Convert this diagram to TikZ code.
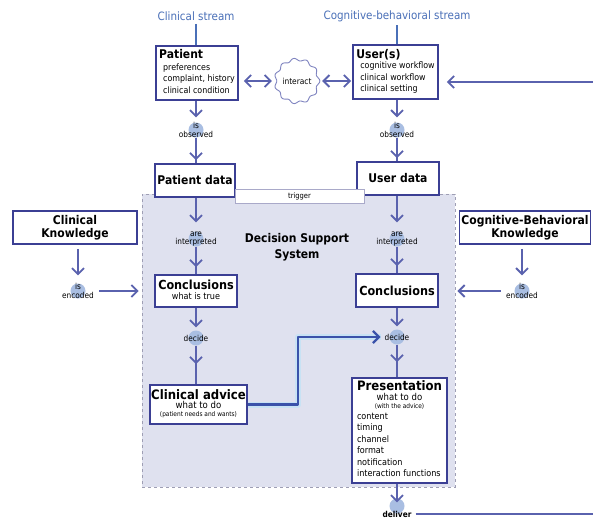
\documentclass[tikz,border=0pt]{standalone}
\usepackage{fontspec}
\setmainfont{DejaVu Sans Condensed}
\usetikzlibrary{arrows.meta,decorations.markings,calc}
\definecolor{boxc}{HTML}{3B3F94}
\definecolor{arrc}{HTML}{5A62AE}
\definecolor{streamc}{HTML}{4A70B8}
\definecolor{dssfill}{HTML}{DFE1EF}
\definecolor{dssline}{HTML}{9E9EB4}
\definecolor{dotc}{HTML}{A9BEE2}
\definecolor{advc}{HTML}{3A52AA}
\definecolor{haloc}{HTML}{BFE3F7}
\definecolor{cloudc}{HTML}{7F84C0}
\definecolor{trigc}{HTML}{A9A9C9}
\newcommand\fsz[2]{\fontsize{#1}{#2}\selectfont}
\tikzset{
  box/.style={draw=boxc, line width=1.7pt, fill=white, inner sep=2pt},
  dotnode/.style={circle, fill=dotc, minimum size=15pt, inner sep=0pt},
  dottext/.style={align=center, font=\fsz{8.2}{8.5}, inner sep=0pt},
  chev/.tip={Straight Barb[length=6pt,width=12pt,line width=1.8pt]},
  conn/.style={draw=arrc, line width=1.8pt},
  arr/.style={conn, -chev},
  dbl/.style={conn, chev-chev},
  tipat/.style={conn, postaction={decorate, decoration={markings,
     mark=at position -#1 with {\draw[arrc, line width=1.8pt, -chev] (-8pt,0) -- (0,0);}}}},
  stream/.style={text=streamc, font=\fsz{11.5}{13}},
  streamline/.style={draw=streamc, line width=1.2pt},
}
\begin{document}
\begin{tikzpicture}[x=1pt,y=-1pt]
\useasboundingbox (0,0) rectangle (593,519);
\fill[white] (0,0) rectangle (593,519);

% decision support system region
\node[draw=dssline, dashed, line width=0.9pt, fill=dssfill, minimum width=313pt, minimum height=293pt, inner sep=0pt] (dss) at (298.5,340.5) {};
\node[font=\fsz{12}{16}\bfseries, align=center] (dsstitle) at (297,247) {Decision Support\\System};

% stream labels
\node[stream] (clinstream) at (196,16) {Clinical stream};
\node[stream] (cogstream) at (397,16) {Cognitive-behavioral stream};

% boxes
\node[box, minimum width=82pt, minimum height=54pt] (patient) at (197,73)
  {\fsz{8.8}{11.5}\begin{tabular}{@{}l@{}}
   {\fsz{12}{13}\bfseries Patient}\\[0pt]
   \hspace*{4pt}preferences\\
   \hspace*{4pt}complaint, history\\
   \hspace*{4pt}clinical condition
   \end{tabular}};
\node[box, minimum width=85pt, minimum height=54pt] (user) at (395.5,72)
  {\fsz{8.8}{11.5}\begin{tabular}{@{}l@{}}
   {\fsz{12}{13}\bfseries User(s)}\\[-1pt]
   \hspace*{4pt}cognitive workflow\\
   \hspace*{4pt}clinical workflow\\
   \hspace*{4pt}clinical setting
   \end{tabular}};
\node[box, minimum width=80pt, minimum height=33pt, font=\fsz{12}{13}\bfseries] (pdata) at (195,180.5) {Patient data};
\node[box, minimum width=82pt, minimum height=33pt, font=\fsz{12}{13}\bfseries] (udata) at (398,178.5) {User data};

\node[draw=trigc, line width=0.8pt, fill=white, minimum width=129pt, minimum height=14pt, inner sep=0pt, font=\fsz{7.5}{8}] (trigger) at (299.5,196) {trigger};

\node[box, minimum width=124pt, minimum height=33pt, align=center, font=\fsz{12}{12.5}\bfseries] (clinK) at (75,227.5) {Clinical\\Knowledge};
\node[box, minimum width=128pt, minimum height=33pt, align=center, font=\fsz{12}{12.5}\bfseries] (cogK) at (525,227.5) {Cognitive-Behavioral\\Knowledge};

\node[box, minimum width=82pt, minimum height=32pt, inner sep=1pt] (conclL) at (196,291)
  {\fsz{9}{10}\begin{tabular}{@{}c@{}}
   {\fsz{12.5}{13}\bfseries Conclusions}\\[-0.5pt]
   what is true
   \end{tabular}};
\node[box, minimum width=82pt, minimum height=33pt, font=\fsz{12.5}{13}\bfseries] (conclR) at (397,290.5) {Conclusions};

\node[box, minimum width=91pt, minimum height=39pt, inner sep=1pt] (advice) at (198.5,404.5)
  {\fsz{9.5}{9.5}\begin{tabular}{@{}c@{}}
   {\fsz{13}{13}\bfseries Clinical advice}\\[-1pt]
   what to do\\[-1.5pt]
   {\fsz{6.5}{7}(patient needs and wants)}
   \end{tabular}};

\node[box, minimum width=95pt, minimum height=105pt] (pres) at (399.5,430.5)
  {\fsz{9}{11.5}\begin{tabular}{@{}l@{}}
   \multicolumn{1}{@{}c@{}}{\fsz{13}{13}\bfseries Presentation}\\[-1.5pt]
   \multicolumn{1}{@{}c@{}}{\fsz{9.5}{10}what to do}\\[-3.5pt]
   \multicolumn{1}{@{}c@{}}{\fsz{6.5}{8}(with the advice)}\\[-0.5pt]
   content\\
   timing\\
   channel\\
   format\\
   notification\\
   interaction functions
   \end{tabular}};

% interact cloud
\draw[cloudc, line width=0.9pt, fill=white, shift={(297,81)}] plot[domain=0:360, samples=150, smooth cycle] (\x:{21.5+1.3*cos(11*\x)});
\node[circle, minimum size=44pt, inner sep=0pt, font=\fsz{8.3}{9}] (interact) at (297,81) {interact};

% circles
\node[dotnode] (obsL) at (196,130) {};
\node[dotnode] (obsR) at (397,130) {};
\node[dotnode] (intL) at (196,239) {};
\node[dotnode] (intR) at (397,239) {};
\node[dotnode] (decL) at (196,338) {};
\node[dotnode] (decR) at (397,337) {};
\node[dotnode] (encL) at (78,291) {};
\node[dotnode] (encR) at (522,291) {};
\node[dotnode] (deliv) at (397,506) {};
\node[dottext] (obsLt) at (obsL) {is\\observed};
\node[dottext] (obsRt) at (obsR) {is\\observed};
\node[dottext] (intLt) at (intL) {are\\interpreted};
\node[dottext] (intRt) at (intR) {are\\interpreted};
\node[dottext] (decLt) at (decL) {decide};
\node[dottext] (decRt) at (decR) {decide};
\node[dottext] (encLt) at (encL) {is\\encoded};
\node[dottext] (encRt) at (encR) {is\\encoded};
\node[dottext, font=\fsz{8.2}{9}\bfseries] (delivt) at (397,514) {deliver};

% stream lines
\draw[streamline] (clinstream.south) -- (clinstream.south |- patient.north);
\draw[streamline] (cogstream.south) -- (cogstream.south |- user.north);

% interact arrows
\draw[dbl, shorten <=5pt, shorten >=3pt] (patient.east |- interact) -- (interact.west);
\draw[dbl, shorten <=3pt, shorten >=1pt] (interact.east) -- (interact.east -| user.west);
\coordinate (inR) at (593,82);
\draw[arr, shorten >=8pt] (inR) -- (inR -| user.east);

% left column
\draw[arr, shorten >=5pt] (patient.south -| obsL) -- (obsL);
\draw[tipat=3pt] (obsL) -- (obsL |- pdata.north);
\draw[arr, shorten >=9pt] (pdata.south -| intL) -- (intL);
\draw[tipat=7pt] (intL) -- (intL |- conclL.north);
\draw[arr, shorten >=3pt] (conclL.south -| decL) -- (decL);
\draw[tipat=20pt] (decL) -- (decL |- advice.north);

% right column
\draw[arr, shorten >=5pt] (user.south -| obsR) -- (obsR);
\draw[tipat=3pt] (obsR) -- (obsR |- udata.north);
\draw[arr, shorten >=9pt] (udata.south -| intR) -- (intR);
\draw[tipat=7pt] (intR) -- (intR |- conclR.north);
\draw[arr, shorten >=3pt] (conclR.south -| decR) -- (decR);
\draw[tipat=15pt] (decR) -- (decR |- pres.north);
\draw[arr, shorten >=-4pt] (pres.south -| deliv) -- (deliv);
\coordinate (outR) at (593,514);
\draw[conn, line width=1.5pt, shorten <=4pt] (delivt.east) -- (outR);

% knowledge
\draw[arr, shorten <=4pt, shorten >=8pt] (clinK.south -| encL) -- (encL);
\draw[arr, shorten <=5pt, shorten >=3pt] (encLt.east) -- (encLt.east -| dss.west);
\draw[arr, shorten <=4pt, shorten >=8pt] (cogK.south -| encR) -- (encR);
\draw[arr, shorten <=5pt, shorten >=2pt] (encRt.west) -- (encRt.west -| dss.east);

% advice to decide
\coordinate (bend) at (298,0);
\draw[haloc, line width=6pt, line join=round, opacity=0.7, shorten >=4pt] (advice.east) -| (bend |- decR) -- (decRt.west);
\draw[advc, line width=2.4pt, line join=round, shorten >=4pt, -{Straight Barb[length=6pt,width=12pt,line width=2.2pt]}] (advice.east) -| (bend |- decR) -- (decRt.west);
\end{tikzpicture}
\end{document}
